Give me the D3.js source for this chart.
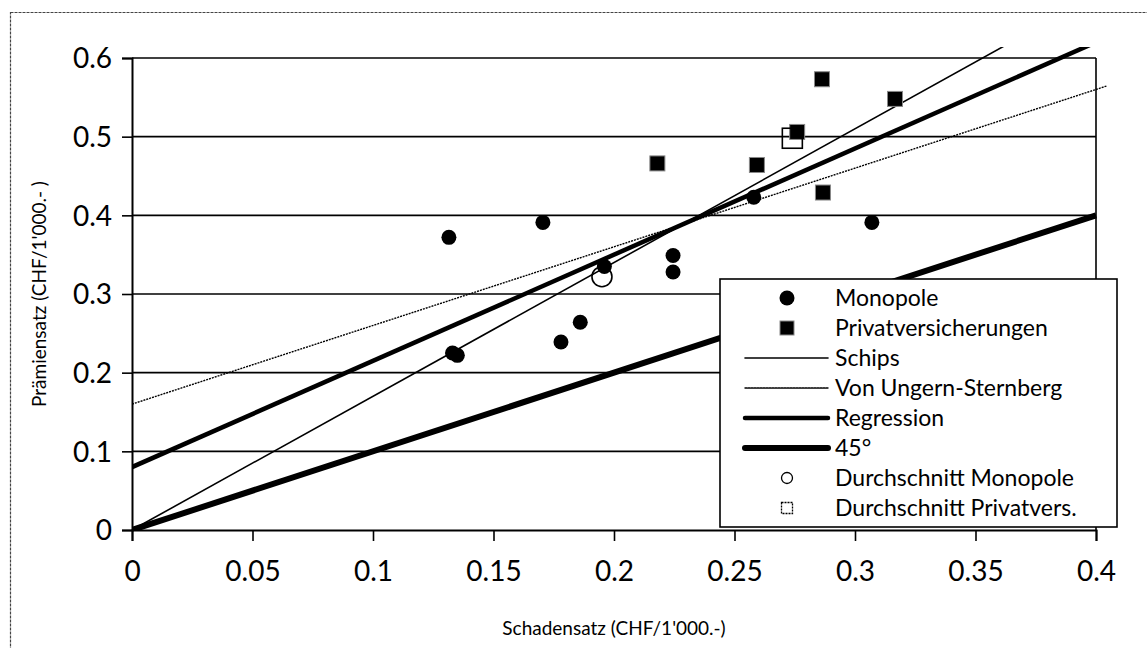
<!DOCTYPE html>
<html>
<head>
<meta charset="utf-8">
<script src="https://cdn.jsdelivr.net/npm/d3@7"></script>
<style>
  body { margin: 0; background: #fff; }
  text { font-family: Lato, "Open Sans", sans-serif; fill: #000; }
</style>
</head>
<body>
<div id="chart"></div>
<script>
// Data.
const monoX = [0.1315, 0.1705, 0.196, 0.2245, 0.2245, 0.186, 0.178, 0.133, 0.135, 0.258, 0.307];
const monoY = [0.372, 0.391, 0.335, 0.349, 0.328, 0.264, 0.239, 0.225, 0.222, 0.423, 0.391];
const privX = [0.218, 0.2593, 0.276, 0.2863, 0.2867, 0.3166];
const privY = [0.466, 0.464, 0.506, 0.573, 0.429, 0.548];
const avgMono = [0.195, 0.322];
const avgPriv = [0.274, 0.498];

// Line series, two end points each.
const schipsX = [0, 0.4], schipsY = [0, 0.68];
const vusX = [0, 0.41], vusY = [0.16, 0.57];
const regX = [0, 0.4], regY = [0.08, 0.62];
const degX = [0, 0.4], degY = [0, 0.4];

const xTicks = [0, 0.05, 0.1, 0.15, 0.2, 0.25, 0.3, 0.35, 0.4];
const yTicks = [0, 0.1, 0.2, 0.3, 0.4, 0.5, 0.6];
const legendNames = ["Monopole", "Privatversicherungen", "Schips", "Von Ungern-Sternberg",
  "Regression", "45°", "Durchschnitt Monopole", "Durchschnitt Privatvers."];

const W = 1147, H = 648;
const margin = {top: 58, left: 132, right: 51, bottom: 118};
const width = W - margin.left - margin.right;
const height = H - margin.top - margin.bottom;

const svg = d3.select("#chart").append("svg")
  .attr("width", W).attr("height", H);

// outer chart border
svg.append("rect")
  .attr("x", 10.5).attr("y", 12.5)
  .attr("width", W + 20).attr("height", H + 20)
  .attr("fill", "none").attr("stroke", "#444").attr("stroke-width", 1.2)
  .attr("stroke-dasharray", "3,1");

const g = svg.append("g").attr("transform", `translate(${margin.left},${margin.top})`);

const x = d3.scaleLinear().domain([0, 0.4]).range([0, width]);
const y = d3.scaleLinear().domain([0, 0.6]).range([height, 0]);

const fmt = d => d === 0 ? "0" : String(+d.toFixed(2));

// gridlines
g.selectAll(".grid").data(yTicks.slice(1)).enter().append("line")
  .attr("x1", 0).attr("x2", width)
  .attr("y1", d => y(d)).attr("y2", d => y(d))
  .attr("stroke", "#000").attr("stroke-width", 1.6);

// right border of the plot area
g.append("line").attr("x1", width).attr("x2", width).attr("y1", 0).attr("y2", height)
  .attr("stroke", "#000").attr("stroke-width", 1.6);

// axes
const xAxis = g.append("g").attr("transform", `translate(0,${height})`)
  .call(d3.axisBottom(x).tickValues(xTicks).tickFormat(fmt).tickSize(11).tickPadding(20));
const yAxis = g.append("g")
  .call(d3.axisLeft(y).tickValues(yTicks).tickFormat(fmt).tickSize(10).tickPadding(10));
[xAxis, yAxis].forEach(a => {
  a.select(".domain").attr("stroke", "#000").attr("stroke-width", 2);
  a.selectAll(".tick line").attr("stroke", "#000").attr("stroke-width", 1.6);
  a.selectAll("text").attr("font-size", 28).attr("font-family", "Lato, sans-serif");
});
yAxis.selectAll("text").attr("dy", "0.35em");

// clip slightly larger than the plot, like the original
svg.append("clipPath").attr("id", "clip").append("rect")
  .attr("x", 0).attr("y", -11).attr("width", width + 11).attr("height", height + 11);

const lineGen = d3.line().x(d => x(d[0])).y(d => y(d[1]));
const lines = [
  {xs: schipsX, ys: schipsY, w: 1.6, dash: null},
  {xs: vusX, ys: vusY, w: 1.4, dash: "2,1"},
  {xs: regX, ys: regY, w: 4.5, dash: null},
  {xs: degX, ys: degY, w: 6, dash: null}
];
const lg = g.append("g").attr("clip-path", "url(#clip)");
lg.selectAll("path").data(lines).enter().append("path")
  .attr("d", d => lineGen(d.xs.map((v, i) => [v, d.ys[i]])))
  .attr("fill", "none").attr("stroke", "#000")
  .attr("stroke-width", d => d.w)
  .attr("stroke-dasharray", d => d.dash);

// points
g.selectAll(".mono").data(monoX).enter().append("circle")
  .attr("cx", d => x(d)).attr("cy", (d, i) => y(monoY[i])).attr("r", 7.5)
  .attr("fill", "#000");
g.selectAll(".priv").data(privX).enter().append("rect")
  .attr("x", d => x(d) - 7.5).attr("y", (d, i) => y(privY[i]) - 7.5)
  .attr("width", 15).attr("height", 15)
  .attr("fill", "#000").attr("stroke", "#888").attr("stroke-width", 1);
g.append("circle").attr("cx", x(avgMono[0])).attr("cy", y(avgMono[1])).attr("r", 10)
  .attr("fill", "none").attr("stroke", "#000").attr("stroke-width", 1.6);
g.append("rect").attr("x", x(avgPriv[0]) - 10).attr("y", y(avgPriv[1]) - 10)
  .attr("width", 20).attr("height", 20)
  .attr("fill", "none").attr("stroke", "#000").attr("stroke-width", 1.6);

// axis titles
svg.append("text").attr("x", margin.left + width / 2).attr("y", 635)
  .attr("text-anchor", "middle").attr("font-size", 19)
  .text("Schadensatz (CHF/1'000.-)");
svg.append("text").attr("transform", `translate(46,${margin.top + height / 2}) rotate(-90)`)
  .attr("text-anchor", "middle").attr("font-size", 19)
  .text("Prämiensatz (CHF/1'000.- )");

// legend
const leg = svg.append("g").attr("transform", "translate(720,279)");
leg.append("rect").attr("width", 397).attr("height", 248)
  .attr("fill", "#fff").attr("stroke", "#000").attr("stroke-width", 1.6);
const rowY = i => 19 + i * 30;
const lineStyles = {2: lines[0], 3: lines[1], 4: lines[2], 5: lines[3]};
legendNames.forEach((name, i) => {
  const cy = rowY(i);
  if (i === 0) leg.append("circle").attr("cx", 67).attr("cy", cy).attr("r", 7.5).attr("fill", "#000");
  if (i === 1) leg.append("rect").attr("x", 60).attr("y", cy - 7).attr("width", 14).attr("height", 14)
    .attr("fill", "#000").attr("stroke", "#888");
  if (lineStyles[i]) leg.append("line").attr("x1", 25).attr("x2", 108).attr("y1", cy).attr("y2", cy)
    .attr("stroke", "#000").attr("stroke-width", lineStyles[i].w)
    .attr("stroke-dasharray", lineStyles[i].dash).attr("stroke-linecap", "round");
  if (i === 6) leg.append("circle").attr("cx", 67).attr("cy", cy).attr("r", 5.5)
    .attr("fill", "none").attr("stroke", "#000").attr("stroke-width", 1.3);
  if (i === 7) leg.append("rect").attr("x", 61.5).attr("y", cy - 5.5).attr("width", 11).attr("height", 11)
    .attr("fill", "none").attr("stroke", "#000").attr("stroke-width", 1.3).attr("stroke-dasharray", "2,1");
  leg.append("text").attr("x", 115).attr("y", cy).attr("dy", "0.35em")
    .attr("font-size", 23).text(name);
});
</script>
</body>
</html>
